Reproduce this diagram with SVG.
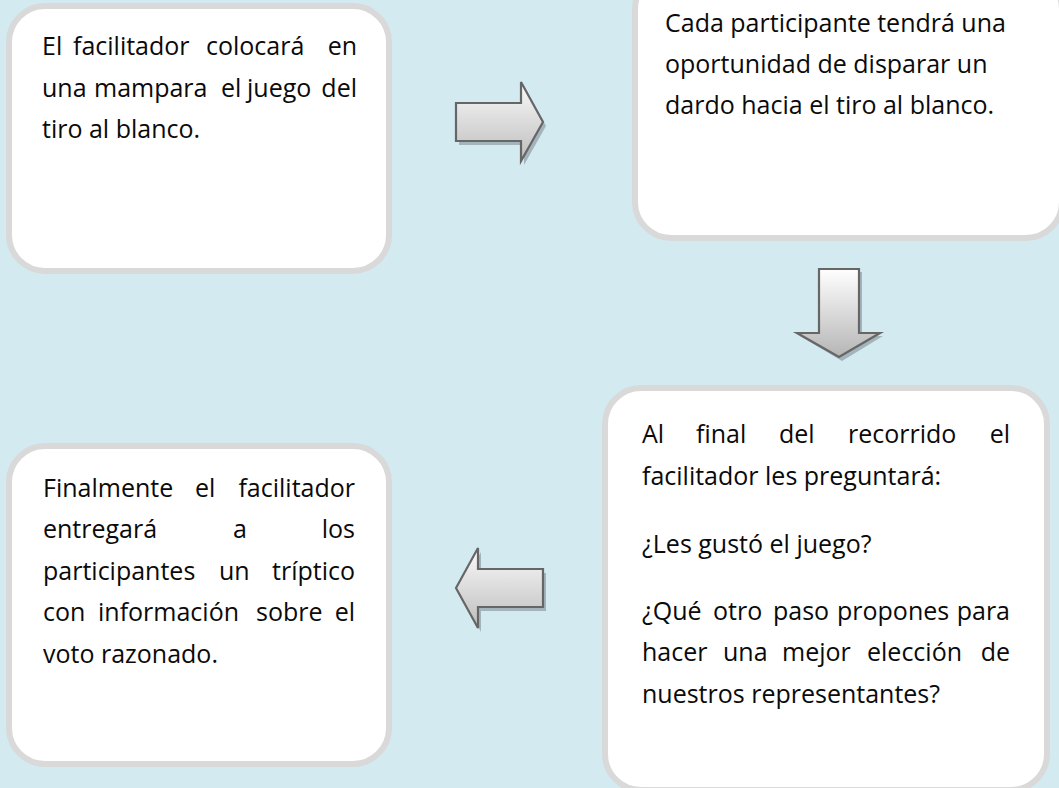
<svg xmlns="http://www.w3.org/2000/svg" width="1059" height="788" viewBox="0 0 1059 788">
<defs>
<style>
.box{fill:#ffffff;stroke:#d9d9d9;stroke-width:6}
.t{font-family:"Open Sans","Noto Sans","Liberation Sans",sans-serif;font-size:25px;fill:#0a0a0a}
.arr{stroke:#666666;stroke-width:2.2;stroke-linejoin:miter}
.sh{fill:#a3b4bc}
</style>
<linearGradient id="gv" x1="0" y1="0" x2="0" y2="1">
<stop offset="0" stop-color="#fafafa"/>
<stop offset="1" stop-color="#bdbdbd"/>
</linearGradient>
<linearGradient id="gd" x1="0" y1="0" x2="0" y2="1">
<stop offset="0" stop-color="#ffffff"/>
<stop offset="1" stop-color="#b5b5b5"/>
</linearGradient>
</defs>
<rect x="0" y="0" width="1059" height="788" fill="#d3eaf1"/>

<g id="connectors">
<g id="arrow-right">
<path class="sh" d="M459,107 L524,107 L524,86 L546,126 L524,165 L524,145 L459,145 Z"/>
<path class="arr" fill="url(#gv)" d="M456,103 L521,103 L521,82 L543,122 L521,161 L521,141 L456,141 Z"/>
</g>
<g id="arrow-down">
<path class="sh" d="M822,272 L862,272 L862,336 L883,336 L842,361 L800,336 L822,336 Z"/>
<path class="arr" fill="url(#gd)" d="M819,269 L859,269 L859,333 L880,333 L839,357 L797,333 L819,333 Z"/>
</g>
<g id="arrow-left">
<path class="sh" d="M459,592 L481,552 L481,573 L546,573 L546,611 L481,611 L481,632 Z"/>
<path class="arr" fill="url(#gv)" d="M456,588 L478,548 L478,569 L543,569 L543,607 L478,607 L478,628 Z"/>
</g>
</g>

<g id="node1">
<rect class="box" x="9" y="6" width="380" height="265" rx="36"/>
<text class="t" y="55"><tspan x="42">El</tspan><tspan x="73">facilitador</tspan><tspan x="206">colocará</tspan><tspan x="357" text-anchor="end">en</tspan></text>
<text class="t" y="97"><tspan x="42">una</tspan><tspan x="94">mampara</tspan><tspan x="221">el</tspan><tspan x="247">juego</tspan><tspan x="357" text-anchor="end">del</tspan></text>
<text class="t" x="42" y="138">tiro al blanco.</text>
</g>

<g id="node2">
<rect class="box" x="635" y="-27" width="427" height="265" rx="36"/>
<text class="t" x="665" y="32">Cada participante tendrá una</text>
<text class="t" x="665" y="73">oportunidad de disparar un</text>
<text class="t" x="665" y="114">dardo hacia el tiro al blanco.</text>
</g>

<g id="node3">
<rect class="box" x="605" y="388" width="442" height="402" rx="36"/>
<text class="t" y="443"><tspan x="642">Al</tspan><tspan x="696">final</tspan><tspan x="779">del</tspan><tspan x="848">recorrido</tspan><tspan x="1010" text-anchor="end">el</tspan></text>
<text class="t" x="642" y="485">facilitador les preguntará:</text>
<text class="t" x="642" y="553">¿Les gustó el juego?</text>
<text class="t" y="620"><tspan x="642">¿Qué</tspan><tspan x="713">otro</tspan><tspan x="773">paso</tspan><tspan x="837">propones</tspan><tspan x="1010" text-anchor="end">para</tspan></text>
<text class="t" y="661"><tspan x="642">hacer</tspan><tspan x="723">una</tspan><tspan x="782">mejor</tspan><tspan x="867">elección</tspan><tspan x="1010" text-anchor="end">de</tspan></text>
<text class="t" x="642" y="703">nuestros representantes?</text>
</g>

<g id="node4">
<rect class="box" x="9" y="446" width="380" height="318" rx="36"/>
<text class="t" y="497"><tspan x="43">Finalmente</tspan><tspan x="195">el</tspan><tspan x="355" text-anchor="end">facilitador</tspan></text>
<text class="t" y="538"><tspan x="43">entregará</tspan><tspan x="233">a</tspan><tspan x="355" text-anchor="end">los</tspan></text>
<text class="t" y="580"><tspan x="43">participantes</tspan><tspan x="219">un</tspan><tspan x="355" text-anchor="end">tríptico</tspan></text>
<text class="t" y="621"><tspan x="43">con</tspan><tspan x="98">información</tspan><tspan x="256">sobre</tspan><tspan x="355" text-anchor="end">el</tspan></text>
<text class="t" x="43" y="663">voto razonado.</text>
</g>
</svg>
